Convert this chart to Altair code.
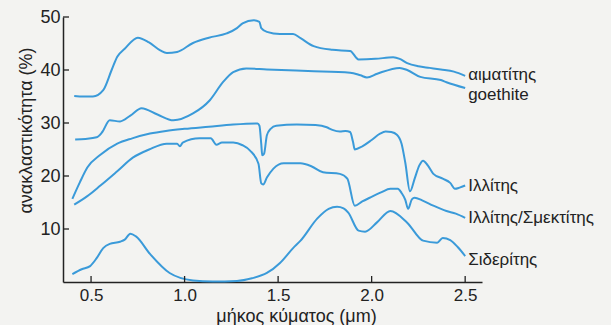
import altair as alt
import pandas as pd

# Spectral reflectance curves (wavelength in µm, reflectance in %)
hem_x = [0.41, 0.46, 0.51, 0.565, 0.61, 0.64, 0.68, 0.75, 0.81, 0.87, 0.905, 0.96, 1.045, 1.13, 1.225,
         1.28, 1.31, 1.37, 1.40, 1.41, 1.44, 1.51, 1.58, 1.62, 1.69, 1.79, 1.885, 1.93, 2.02, 2.115,
         2.15, 2.19, 2.25, 2.31, 2.37, 2.44, 2.50]
hem_y = [35.1, 35.0, 35.0, 36.2, 40.0, 42.5, 44.0, 46.1, 45.2, 43.7, 43.2, 43.4, 45.1, 46.1, 46.9,
         47.9, 48.8, 49.4, 49.1, 47.9, 47.2, 46.8, 46.8, 46.0, 44.5, 43.8, 43.6, 42.0, 42.1, 42.4,
         42.1, 41.3, 40.7, 40.4, 40.1, 39.7, 38.9]

goe_x = [0.415, 0.47, 0.53, 0.56, 0.60, 0.655, 0.71, 0.77, 0.855, 0.94, 1.045, 1.135, 1.205, 1.26,
         1.33, 1.44, 1.66, 1.885, 1.94, 1.975, 2.03, 2.15, 2.19, 2.26, 2.37, 2.40, 2.50]
goe_y = [26.9, 27.0, 27.3, 28.3, 30.5, 30.3, 31.4, 32.8, 31.6, 30.5, 31.8, 34.3, 37.7, 39.6,
         40.3, 40.1, 39.8, 39.5, 39.0, 38.6, 39.3, 40.4, 40.0, 38.7, 38.1, 37.7, 36.6]

ill_x = [0.40, 0.44, 0.48, 0.55, 0.64, 0.72, 0.815, 0.90, 1.0, 1.13, 1.26, 1.39, 1.40, 1.41, 1.415,
         1.425, 1.44, 1.46, 1.49, 1.6, 1.70, 1.76, 1.79, 1.83, 1.86, 1.885, 1.90, 1.91, 1.95, 2.0,
         2.045, 2.075, 2.105, 2.135, 2.16, 2.18, 2.205, 2.23, 2.255, 2.275, 2.30, 2.33, 2.38,
         2.42, 2.445, 2.47, 2.50]
ill_y = [15.7, 18.8, 21.6, 24.0, 26.1, 27.1, 28.0, 28.5, 28.9, 29.3, 29.7, 29.9, 29.5, 26.0, 23.9,
         24.2, 27.7, 28.9, 29.5, 29.7, 29.6, 29.2, 28.7, 28.4, 28.5, 28.3, 26.5, 25.0, 25.6, 26.8,
         28.0, 28.4, 28.3, 27.8, 26.1, 22.5, 17.1, 19.5, 22.0, 22.9, 22.0, 20.4, 19.5,
         18.7, 17.6, 17.8, 18.2]

ism_x = [0.41, 0.48, 0.55, 0.64, 0.725, 0.81, 0.905, 0.96, 0.975, 0.99, 1.08, 1.14, 1.17, 1.20,
         1.26, 1.31, 1.35, 1.395, 1.41, 1.42, 1.44, 1.475, 1.53, 1.60, 1.62, 1.68, 1.74, 1.83,
         1.87, 1.91, 1.95, 1.99, 2.05, 2.1, 2.14, 2.16, 2.18, 2.195, 2.215, 2.23, 2.27, 2.33,
         2.40, 2.45, 2.50]
ism_y = [14.6, 16.2, 18.2, 20.9, 23.5, 25.0, 26.1, 26.1, 25.6, 26.3, 27.1, 27.1, 25.9, 26.3,
         26.3, 25.8, 24.8, 22.3, 18.6, 18.4, 19.7, 21.4, 22.4, 22.4, 22.4, 21.8, 20.7, 20.4,
         19.5, 14.4, 15.2, 15.9, 16.9, 17.6, 17.6, 16.8, 15.5, 13.8, 15.6, 15.9, 15.4, 14.4,
         13.4, 12.9, 12.1]

sid_x = [0.40, 0.45, 0.495, 0.53, 0.565, 0.60, 0.655, 0.68, 0.71, 0.74, 0.815, 0.92, 1.045, 1.15,
         1.28, 1.36, 1.44, 1.51, 1.58, 1.62, 1.71, 1.77, 1.815, 1.85, 1.875, 1.93, 1.965, 2.03,
         2.10, 2.19, 2.275, 2.35, 2.38, 2.42, 2.46, 2.50]
sid_y = [1.5, 2.4, 3.0, 4.5, 6.4, 7.2, 7.6, 8.0, 9.1, 8.6, 5.3, 1.7, 0.3, 0.1,
         0.2, 0.7, 1.7, 3.6, 6.4, 7.8, 12.0, 13.8, 14.2, 13.9, 13.1, 9.7, 9.5, 11.3,
         13.4, 11.2, 7.8, 7.4, 8.3, 7.9, 6.6, 4.9]

series_names = ["αιματίτης", "goethite", "Ιλλίτης", "Ιλλίτης/Σμεκτίτης", "Σιδερίτης"]
series_x = [hem_x, goe_x, ill_x, ism_x, sid_x]
series_y = [hem_y, goe_y, ill_y, ism_y, sid_y]
label_dy = [-1, 7, 0, 0, 4]

x_ticks = [0.5, 1.0, 1.5, 2.0, 2.5]
y_ticks = [10, 20, 30, 40, 50]

rows = []
for name, xs, ys in zip(series_names, series_x, series_y):
    for xv, yv in zip(xs, ys):
        rows.append({"series": name, "wl": xv, "refl": yv})
df = pd.DataFrame(rows)

W, H = 419, 265
BLUE = "#3a9ad9"
FONT = "Liberation Sans"

xscale = alt.Scale(domain=[0.35, 2.59], nice=False, zero=False)
yscale = alt.Scale(domain=[0, 50], nice=False)

lines = alt.Chart(df).mark_line(color=BLUE, strokeWidth=2, interpolate="monotone").encode(
    x=alt.X("wl:Q", scale=xscale,
            axis=alt.Axis(title="μήκος κύματος (μm)", values=x_ticks, format=".1f",
                          tickSize=0, labelPadding=5, labelFontSize=17, labelColor="#222",
                          titleFontSize=18, titleFontWeight="normal", titleColor="#222",
                          titleX=233, titleY=39, titleBaseline="alphabetic",
                          domainColor="#222", domainWidth=1.5, grid=False,
                          labelFont=FONT, titleFont=FONT)),
    y=alt.Y("refl:Q", scale=yscale,
            axis=alt.Axis(title="ανακλαστικότητα (%)", values=y_ticks,
                          tickSize=0, labelPadding=3, labelFontSize=18, labelColor="#222",
                          titleFontSize=18, titleFontWeight="normal", titleColor="#222",
                          titleX=-37, titleY=113, titleAlign="center", titleBaseline="middle",
                          domainColor="#222", domainWidth=1.5, grid=False,
                          labelFont=FONT, titleFont=FONT)),
    detail="series:N",
)

layers = [lines]

xt = pd.DataFrame({"t": x_ticks})
layers.append(alt.Chart(xt).mark_rule(color="#222", strokeWidth=1.3).encode(
    x=alt.X("t:Q", scale=xscale), y=alt.value(H), y2=alt.value(H - 6)))
yt = pd.DataFrame({"t": y_ticks})
layers.append(alt.Chart(yt).mark_rule(color="#222", strokeWidth=1.3).encode(
    y=alt.Y("t:Q", scale=yscale), x=alt.value(0), x2=alt.value(6)))

for name, xs, ys, dy in zip(series_names, series_x, series_y, label_dy):
    lab = pd.DataFrame({"series": [name], "wl": [xs[-1]], "refl": [ys[-1]]})
    layers.append(alt.Chart(lab).mark_text(align="left", baseline="middle", dx=3, dy=dy,
                                           fontSize=17, font=FONT, color="#222").encode(
        x=alt.X("wl:Q", scale=xscale), y=alt.Y("refl:Q", scale=yscale), text="series:N"))

chart = alt.layer(*layers).properties(
    width=W, height=H,
    autosize=alt.AutoSizeParams(type="none"),
    padding={"left": 63, "top": 17, "right": 129, "bottom": 43},
    background="#f3f3f1",
).configure_view(stroke=None)

chart.save("out.html", embed_options={"renderer": "svg", "actions": False})
